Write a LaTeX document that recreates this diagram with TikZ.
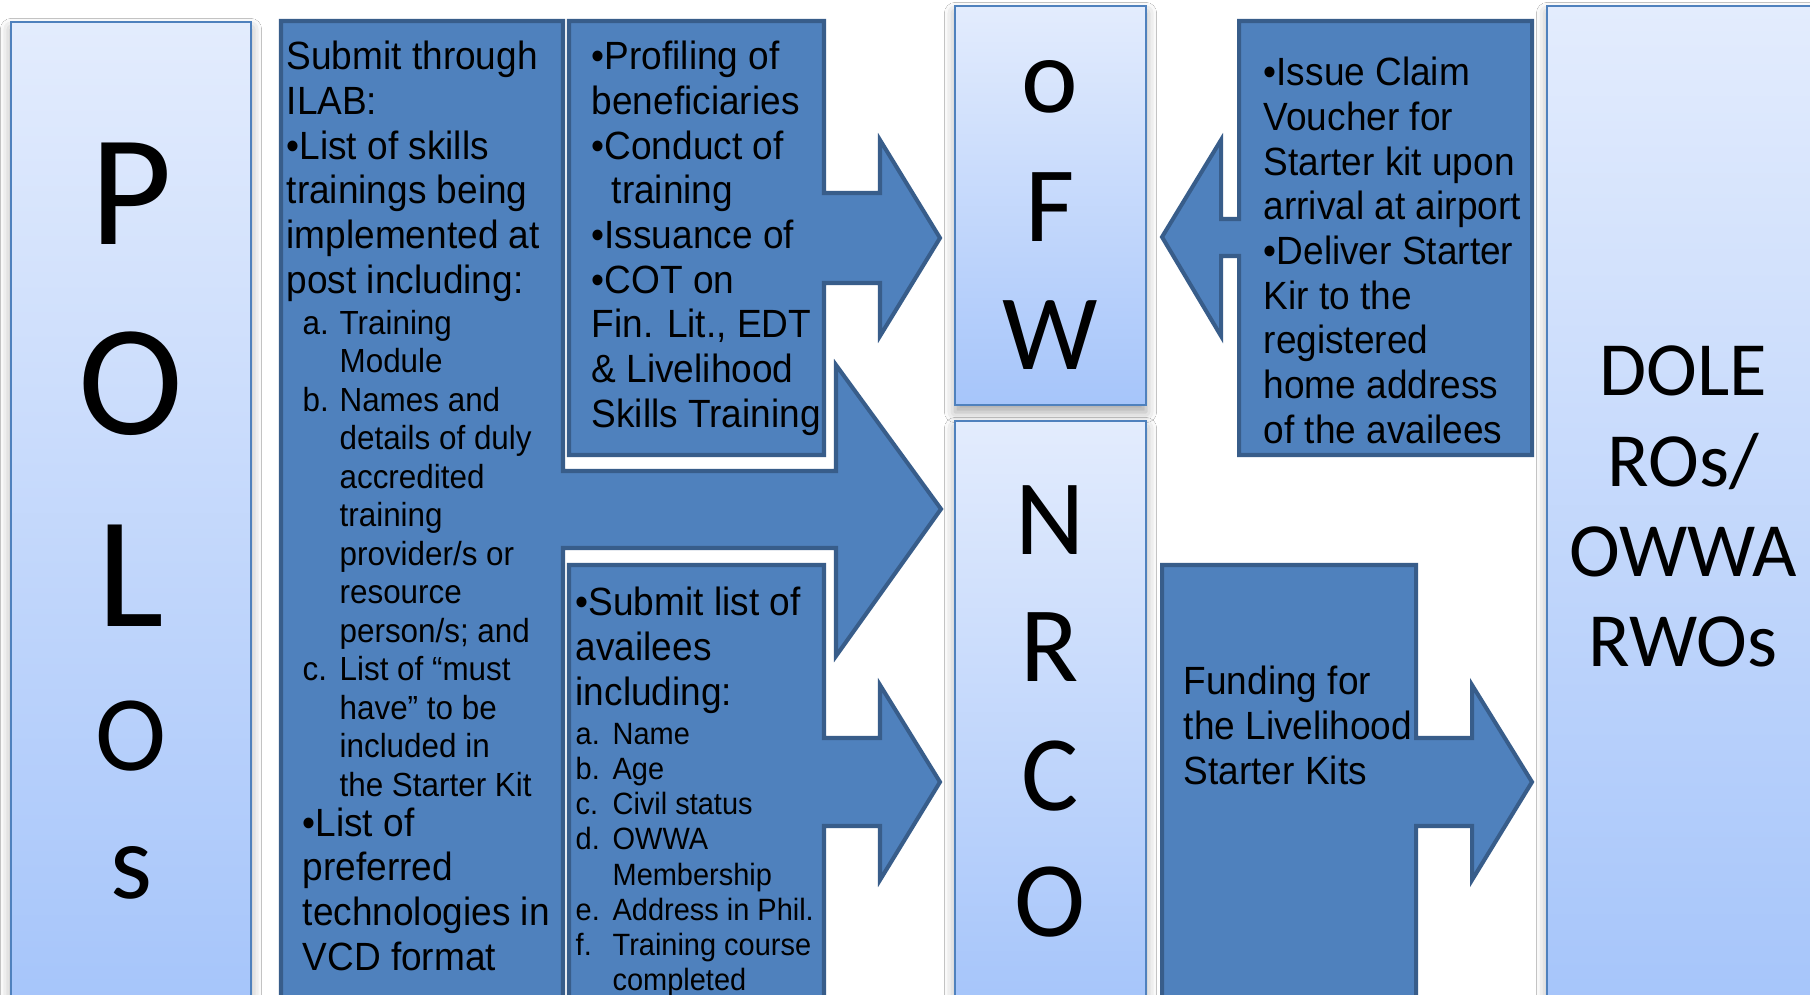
\documentclass[tikz,border=0pt]{standalone}
\usepackage{fontspec}
\setmainfont{Liberation Sans}
\newfontfamily\arialn[FakeStretch=0.94]{Liberation Sans}
\newfontfamily\calib{Carlito}
\usetikzlibrary{shadows.blur}

\definecolor{panelTop}{HTML}{E3ECFD}
\definecolor{panelBot}{HTML}{A6C5FA}
\definecolor{panelEdge}{HTML}{4F81BD}
\definecolor{boxFill}{HTML}{4F81BD}
\definecolor{boxEdge}{HTML}{385D8A}

\newcommand\bigtxt{\arialn\fontsize{11.2pt}{12.7pt}\selectfont}
\newcommand\smalltxt{\arialn\fontsize{9.5pt}{10.95pt}\selectfont}
\newcommand\tinytxt{\arialn\fontsize{8.76pt}{10pt}\selectfont}
\newcommand\enumlbl[2]{\hspace*{#1}\makebox[10.5pt][l]{#2}}
\newcommand\enumgap[1]{\hspace*{#1}\hspace*{10.5pt}}

\tikzset{
  panel/.style={draw=panelEdge, line width=0.7pt, top color=panelTop, bottom color=panelBot,
    blur shadow={shadow xshift=0pt, shadow yshift=-2pt, shadow blur radius=3pt, shadow opacity=35}},
  arrowbox/.style={draw=boxEdge, fill=boxFill, line width=1.15pt, line join=miter},
  boxtext/.style={anchor=base west, inner sep=0pt},
  vletter/.style={anchor=base, inner sep=0pt, font=\calib\fontsize{30.5pt}{30pt}\selectfont},
  bigletter/.style={vletter, font=\calib\fontsize{45pt}{45pt}\selectfont}
}

\begin{document}
\begin{tikzpicture}[x=0.01cm, y=-0.01cm]
\useasboundingbox (0,0) rectangle (1810,995);
\clip (0,0) rectangle (1810,995);
\fill[white] (0,0) rectangle (1810,995);

% side panels
\draw[panel] (11,22) rectangle (251,1003);
\draw[panel] (955,6) rectangle (1146,405);
\draw[panel] (955,421) rectangle (1146,1003);
\draw[panel] (1547,6) rectangle (1822,1003);

% boxes with arrows
\draw[arrowbox] (281,21) -- (563,21) -- (563,471) -- (836,471) -- (836,365) -- (941,509)
  -- (836,656) -- (836,548) -- (563,548) -- (563,1010) -- (281,1010) -- cycle;
\draw[arrowbox] (569,21) -- (824,21) -- (824,193) -- (880,193) -- (880,140) -- (940,238)
  -- (880,336) -- (880,283) -- (824,283) -- (824,455) -- (569,455) -- cycle;
\draw[arrowbox] (569,565) -- (824,565) -- (824,738) -- (880,738) -- (880,685) -- (940,782)
  -- (880,880) -- (880,826) -- (824,826) -- (824,1010) -- (569,1010) -- cycle;
\draw[arrowbox] (1239,21) -- (1532,21) -- (1532,455) -- (1239,455) -- (1239,256) -- (1221,256)
  -- (1221,336) -- (1162,237) -- (1221,140) -- (1221,219) -- (1239,219) -- cycle;
\draw[arrowbox] (1162,565) -- (1416,565) -- (1416,738) -- (1472,738) -- (1472,685) -- (1532,782)
  -- (1472,880) -- (1472,826) -- (1416,826) -- (1416,1010) -- (1162,1010) -- cycle;

% vertical labels
\foreach \ch/\y [count=\i] in {P/245,O/435,L/627}
  \node[bigletter] (pol\i) at (131,\y) {\ch};
\foreach \ch/\y [count=\i from 4] in {O/770,s/898}
  \node[vletter] (pol\i) at (131,\y) {\ch};
\foreach \ch/\y [count=\i] in {o/113,F/242,W/370}
  \node[vletter] (ofw\i) at (1050,\y) {\ch};
\foreach \ch/\y [count=\i] in {N/555,R/682,C/810,O/936}
  \node[vletter] (nrco\i) at (1050,\y) {\ch};
\node[anchor=base, inner sep=0pt] (dole) at (1683,396)
  {\parbox[t]{5cm}{\centering\calib\fontsize{21.8pt}{25.6pt}\selectfont DOLE\\ROs/\\OWWA\\RWOs}};

% box texts
\node[boxtext] (ilab) at (286,70) {\parbox[t]{8cm}{\raggedright
  \bigtxt Submit through\\ILAB:\\•List of skills\\trainings being\\implemented at\\post including:\par
  \vspace{0.7pt}\smalltxt
  \enumlbl{4.55pt}{a.}Training\\\enumgap{4.55pt}Module\\
  \enumlbl{4.55pt}{b.}Names and\\\enumgap{4.55pt}details of duly\\\enumgap{4.55pt}accredited\\
  \enumgap{4.55pt}training\\\enumgap{4.55pt}provider/s or\\\enumgap{4.55pt}resource\\
  \enumgap{4.55pt}person/s; and\\
  \enumlbl{4.55pt}{c.}List of “must\\\enumgap{4.55pt}have” to be\\\enumgap{4.55pt}included in\\
  \enumgap{4.55pt}the Starter Kit\par
  \vspace{-1.4pt}\bigtxt
  \hspace*{4.55pt}•List of\\\hspace*{4.55pt}preferred\\\hspace*{4.55pt}technologies in\\
  \hspace*{4.55pt}VCD format}};
\node[boxtext] (profiling) at (591,70) {\parbox[t]{8cm}{\raggedright\bigtxt
  •Profiling of\\beneficiaries\\•Conduct of\\\hspace*{5.7pt}training\\•Issuance of\\•COT on\\
  Fin. Lit., EDT\\\& Livelihood\\Skills Training}};
\node[boxtext] (availees) at (575,616) {\parbox[t]{8cm}{\raggedright
  \bigtxt •Submit list of\\availees\\including:\par
  \vspace{1.1pt}\tinytxt
  \enumlbl{0pt}{a.}Name\\\enumlbl{0pt}{b.}Age\\\enumlbl{0pt}{c.}Civil status\\
  \enumlbl{0pt}{d.}OWWA\\\enumgap{0pt}Membership\\\enumlbl{0pt}{e.}Address in Phil.\\
  \enumlbl{0pt}{f.}Training course\\\enumgap{0pt}completed}};
\node[boxtext] (claim) at (1263,86) {\parbox[t]{8cm}{\raggedright\bigtxt
  •Issue Claim\\Voucher for\\Starter kit upon\\arrival at airport\\•Deliver Starter\\
  Kir to the\\registered\\home address\\of the availees}};
\node[boxtext] (funding) at (1183,695) {\parbox[t]{8cm}{\raggedright\bigtxt
  Funding for\\the Livelihood\\Starter Kits}};
\end{tikzpicture}
\end{document}
